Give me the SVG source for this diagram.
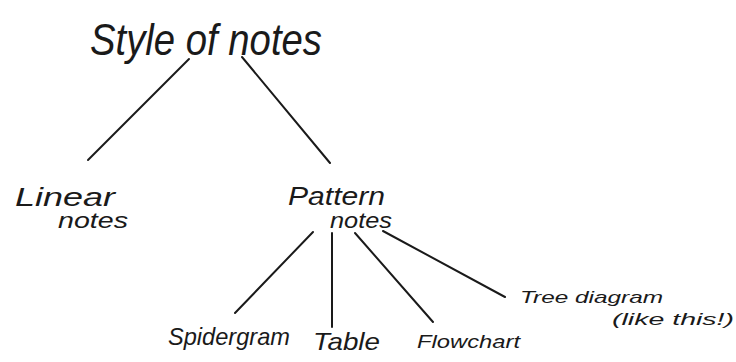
<svg xmlns="http://www.w3.org/2000/svg" width="736" height="362" viewBox="0 0 736 362">
<style>
  .lbl { font-family: "Liberation Sans", "DejaVu Sans", sans-serif; fill: #1a1a1a; font-style: italic; }
  .edge { stroke: #1a1a1a; stroke-width: 2; stroke-linecap: round; fill: none; }
</style>
<rect width="736" height="362" fill="#ffffff"/>
<g id="connectors">
  <line class="edge" x1="189" y1="59" x2="88" y2="160"/>
  <line class="edge" x1="242" y1="57" x2="330" y2="163"/>
  <line class="edge" x1="313" y1="232" x2="235" y2="313"/>
  <line class="edge" x1="332" y1="233" x2="332" y2="327"/>
  <line class="edge" x1="355" y1="233" x2="433" y2="322"/>
  <line class="edge" x1="383" y1="231" x2="505" y2="297"/>
</g>
<g id="root">
  <text class="lbl" x="90" y="55" font-size="44" textLength="232" lengthAdjust="spacingAndGlyphs">Style of notes</text>
</g>
<g id="linear">
  <text class="lbl" x="15" y="206" font-size="26" textLength="100" lengthAdjust="spacingAndGlyphs">Linear</text>
  <text class="lbl" x="58" y="228" font-size="22" textLength="70" lengthAdjust="spacingAndGlyphs">notes</text>
</g>
<g id="pattern">
  <text class="lbl" x="288" y="205" font-size="26" textLength="97" lengthAdjust="spacingAndGlyphs">Pattern</text>
  <text class="lbl" x="330" y="228" font-size="22" textLength="62" lengthAdjust="spacingAndGlyphs">notes</text>
</g>
<g id="spidergram">
  <text class="lbl" x="168" y="345" font-size="24" textLength="122" lengthAdjust="spacingAndGlyphs">Spidergram</text>
</g>
<g id="table">
  <text class="lbl" x="313" y="350" font-size="24" textLength="67" lengthAdjust="spacingAndGlyphs">Table</text>
</g>
<g id="flowchart">
  <text class="lbl" x="417" y="348" font-size="19" textLength="103" lengthAdjust="spacingAndGlyphs">Flowchart</text>
</g>
<g id="tree">
  <text class="lbl" x="520" y="303" font-size="17" textLength="143" lengthAdjust="spacingAndGlyphs">Tree diagram</text>
  <text class="lbl" x="612" y="325" font-size="17" textLength="122" lengthAdjust="spacingAndGlyphs">(like this!)</text>
</g>
</svg>
